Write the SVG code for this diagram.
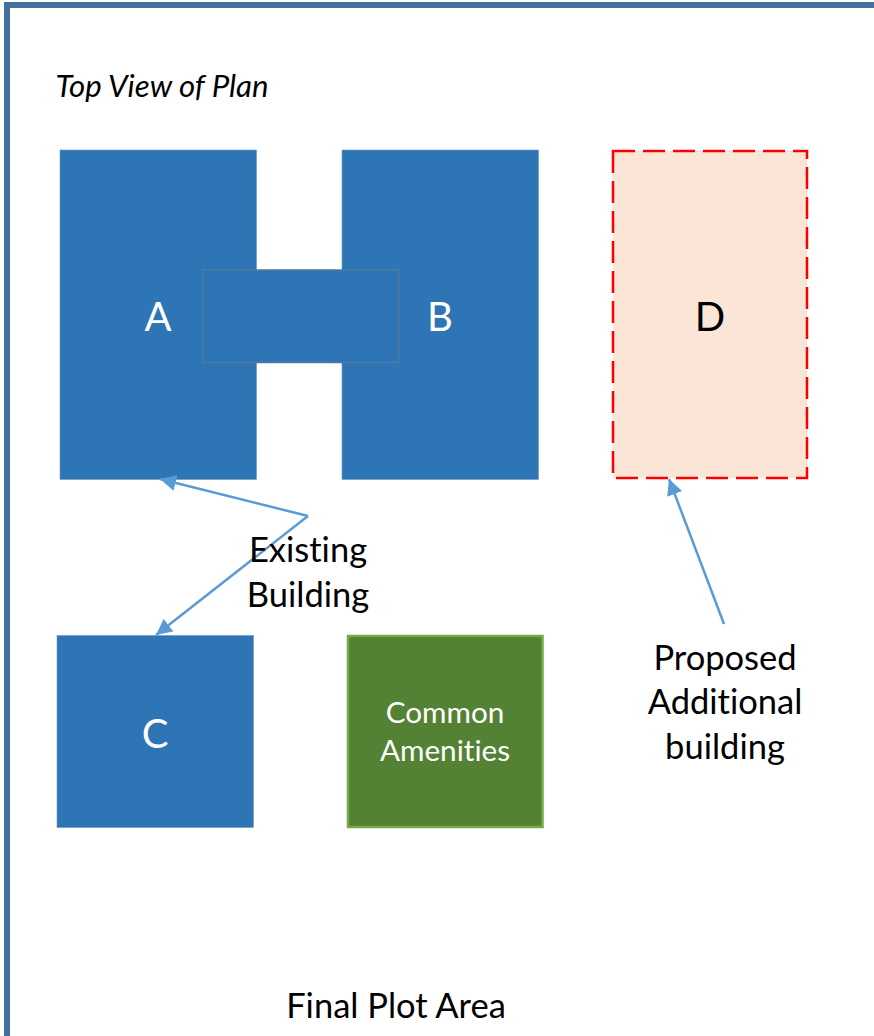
<svg xmlns="http://www.w3.org/2000/svg" width="874" height="1036" viewBox="0 0 874 1036">
<style>
text{font-family:Lato,"Open Sans",sans-serif;text-anchor:middle;font-variant-ligatures:none}
.b{fill:#2e75b6;stroke:#6f97bd;stroke-width:.6}
.w{fill:#fff}
.k{fill:#000}
.c{fill:none;stroke:#5b9bd5;stroke-width:2.500}
.l{font-size:34.500px}
.a{font-size:29.700px}
.h{font-size:40px}
</style>
<defs>
<marker id="ah" markerUnits="userSpaceOnUse" markerWidth="18" markerHeight="16" refX="16" refY="8" orient="auto"><path d="M0 0L16 8L0 16Z" fill="#5b9bd5"/></marker>
</defs>
<rect width="874" height="1036" fill="#fff"/>
<path id="plot-area" d="M7 1036V5H874" fill="none" stroke="#41719c" stroke-width="6"/>
<text id="title" x="162" y="96.500" font-size="31.200" font-style="italic" class="k">Top View of Plan</text>
<g id="node-a"><rect class="b" x="60" y="150" width="196.500" height="329.500"/><text x="158" y="331" class="w h">A</text></g>
<g id="node-b"><rect class="b" x="342" y="150" width="196.500" height="329.500"/><text x="440" y="331" class="w h">B</text></g>
<g id="node-link"><rect x="203" y="270" width="196" height="92.500" fill="#2e75b6" stroke="#4f7a9f" stroke-width="1.500"/></g>
<g id="node-c"><rect class="b" x="57" y="635.500" width="196.500" height="192"/><text x="155" y="748" class="w h">C</text></g>
<g id="node-amenities"><rect x="348" y="636" width="194.500" height="191" fill="#548235" stroke="#70ad47" stroke-width="2.500"/><text x="445" y="723" class="w a">Common</text><text x="445" y="761" class="w a">Amenities</text></g>
<g id="node-d"><rect x="613" y="151" width="194" height="327" fill="#fbe5d6" stroke="#ff0000" stroke-width="2.500" stroke-dasharray="22 8"/><text x="710" y="331" class="k h">D</text></g>
<g id="connectors">
<path class="c" d="M308 516L160 479" marker-end="url(#ah)"/>
<path class="c" d="M308 516L156 635" marker-end="url(#ah)"/>
<path class="c" d="M724 624L669 479" marker-end="url(#ah)"/>
</g>
<g id="labels">
<text x="308" y="561.500" class="k l">Existing</text>
<text x="308" y="606.500" class="k l">Building</text>
<text x="725" y="669.500" class="k l">Proposed</text>
<text x="725" y="713.500" class="k l">Additional</text>
<text x="725" y="758.500" class="k l">building</text>
<text x="396" y="1017.500" class="k l">Final Plot Area</text>
</g>
</svg>
